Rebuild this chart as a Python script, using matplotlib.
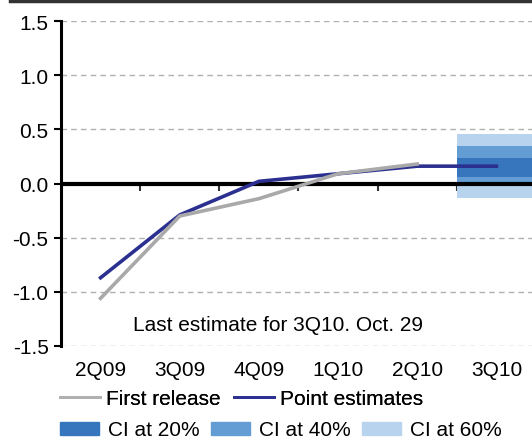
import numpy as np
import matplotlib
matplotlib.use('Agg')
import matplotlib.pyplot as plt
from matplotlib.lines import Line2D
from matplotlib.patches import Patch

plt.rcParams['font.family'] = ['Liberation Sans', 'DejaVu Sans']

quarters = ['2Q09', '3Q09', '4Q09', '1Q10', '2Q10', '3Q10']
first_release = [-1.06, -0.30, -0.14, 0.09, 0.18]
point_est = [-0.87, -0.29, 0.02, 0.09, 0.16, 0.16]

ci_labels = ['CI at 20%', 'CI at 40%', 'CI at 60%']
ci_low = [0.063, -0.026, -0.13]
ci_high = [0.236, 0.35, 0.458]
ci_colors = ['#3776bd', '#639dd4', '#b8d3ee']

note = 'Last estimate for 3Q10. Oct. 29'
fs = 15

fig = plt.figure(figsize=(5.32, 4.39), dpi=100)
ax = fig.add_axes([61/532, 1 - 347/439, 475/532, 325/439])

x = np.arange(len(quarters))

# confidence bands on last quarter (widest first)
xb = [x[-1] - 0.5, x[-1] + 0.5]
for lo, hi, c in list(zip(ci_low, ci_high, ci_colors))[::-1]:
    ax.fill_between(xb, [lo, lo], [hi, hi], color=c, lw=0, zorder=1)

ax.axhline(0, color='black', lw=3, zorder=2)
ax.plot(x, point_est, color='#2b3090', lw=2.6, zorder=3)
ax.plot(x[:len(first_release)], first_release, color='#a9a9a9', lw=2.6, zorder=3)

ax.text(0.41, -1.3, note, fontsize=fs, ha='left', va='center')

ax.set_xlim(-0.5, len(quarters) - 0.5)
ax.set_ylim(-1.5, 1.5)
ax.set_yticks(np.arange(-1.5, 1.51, 0.5))
ax.set_yticklabels([f'{v:.1f}' for v in np.arange(-1.5, 1.51, 0.5)], fontsize=fs)
ax.set_xticks(x)
ax.set_xticklabels(quarters, fontsize=fs)
ax.tick_params(axis='x', length=0, pad=10)
ax.tick_params(axis='y', direction='out', length=5, width=1.5, pad=4)
ax.yaxis.grid(True, linestyle=(0, (4, 3)), color='#b0b0b0', lw=1)
ax.set_axisbelow(True)
for s in ['top', 'right', 'bottom']:
    ax.spines[s].set_visible(False)
ax.spines['left'].set_linewidth(2.2)

# category boundary ticks on the zero line
sec = ax.secondary_xaxis(0.5)
for sp in sec.spines.values():
    sp.set_visible(False)
sec.set_xticks(x[:-1] + 0.5)
sec.set_xticklabels([])
sec.tick_params(length=6, width=1.5, direction='in', color='#333333')

# top rule
fig.add_artist(Line2D([10/532, 1], [1 - 1.5/439, 1 - 1.5/439], color='#333333', lw=2.5))

h1 = [Line2D([], [], color='#b0b0b0', lw=2), Line2D([], [], color='#2b3090', lw=2)]
leg1 = fig.legend(h1, ['First release', 'Point estimates'], loc='center left',
                  bbox_to_anchor=(60/532, 1 - 400/439), ncol=2, frameon=False,
                  fontsize=fs, handlelength=1.9, handletextpad=0.3, columnspacing=0.65,
                  borderpad=0, borderaxespad=0)
h2 = [Patch(color=c) for c in ci_colors]
fig.legend(h2, ci_labels, loc='center left', bbox_to_anchor=(60/532, 1 - 431/439),
           ncol=3, frameon=False, fontsize=fs, handlelength=1.85, handleheight=0.6,
           handletextpad=0.45, columnspacing=0.55, borderpad=0, borderaxespad=0)
fig.add_artist(leg1)

fig.savefig('out.png', dpi=100)
